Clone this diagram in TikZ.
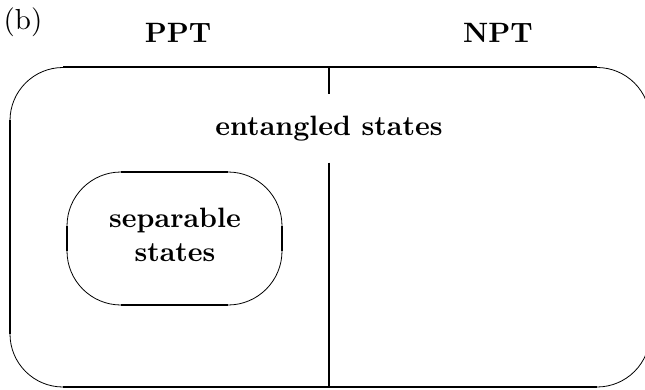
\documentclass[tikz,border=0pt]{standalone}
\begin{document}
\begin{tikzpicture}[x=1pt,y=1pt,
  straight/.style={line width=2pt},
  curved/.style={line width=0.8pt},
  lbl/.style={font=\fontsize{10}{12.1}\selectfont\bfseries, inner sep=0pt, align=center, scale=2.8, transform shape},
  plain/.style={font=\fontsize{10}{12}\selectfont, inner sep=0pt, scale=2.9, transform shape}]
\useasboundingbox (0,0) rectangle (645,389);
\clip (0,0) rectangle (645,389);
% outer rounded rectangle: L=10 R=650 T=321.5 B=2 r=53
\draw[straight] (10,55) -- (10,268.5);
\draw[straight] (63,321.5) -- (597,321.5);
\draw[straight] (63,2) -- (597,2);
\draw[straight] (650,55) -- (650,268.5);
\draw[curved] (10,268.5) arc[start angle=180,end angle=90,radius=53];
\draw[curved] (597,321.5) arc[start angle=90,end angle=0,radius=53];
\draw[curved] (650,55) arc[start angle=0,end angle=-90,radius=53];
\draw[curved] (63,2) arc[start angle=270,end angle=180,radius=53];
% inner rounded rectangle: L=67 R=282 T=217 B=84 r=54
\draw[straight] (67,138) -- (67,163);
\draw[straight] (282,138) -- (282,163);
\draw[straight] (121,217) -- (228,217);
\draw[straight] (121,84) -- (228,84);
\draw[curved] (67,163) arc[start angle=180,end angle=90,radius=54];
\draw[curved] (228,217) arc[start angle=90,end angle=0,radius=54];
\draw[curved] (282,138) arc[start angle=0,end angle=-90,radius=54];
\draw[curved] (121,84) arc[start angle=270,end angle=180,radius=54];
% texts
\node[plain] (b) at (23,367) {(b)};
\node[lbl] (ppt) at (178,356) {PPT};
\node[lbl] (npt) at (498,356) {NPT};
\node[lbl, minimum height=23.9pt] (ent) at (329,260.5) {entangled states};
\node[lbl] (sep) at (175,154) {separable\\states};
% divider
\coordinate (dtop) at (329,321.5);
\coordinate (dbot) at (329,2);
\draw[straight] (dtop) -- (ent.north -| dtop);
\draw[straight] (ent.south -| dtop) -- (dbot);
\end{tikzpicture}
\end{document}
